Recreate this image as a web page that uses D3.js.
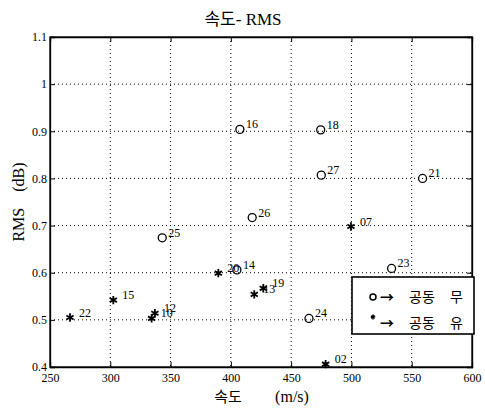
<!DOCTYPE HTML>
<html>
	<head>
		<title>속도-RMS</title>
		<meta charset="UTF8">
		<script src='https://d3js.org/d3.v7.min.js'></script>
		<style>
			body
			{
				margin: 0;
				padding: 0;
				background-color: white;
			}
			text
			{
				font-family: "Liberation Serif", "Noto Sans CJK KR", serif;
			}
			.kr
			{
				font-family: "Noto Sans CJK KR", sans-serif;
			}
		</style>
	</head>
	<body>
		<svg></svg>
	</body>
	<script>
		// measured points: speed (m/s), RMS (dB), 1 = cavitation ("공동 유")
		const ids   = ["16", "18", "27", "21", "26", "25", "14", "23", "24", "07", "20", "19", "13", "15", "22", "10", "12", "02"];
		const speed = [407.5, 474.5, 475, 559, 417.7, 343.1, 405, 533.3, 464.8, 499.6, 389.6, 426.9, 419.4, 302.5, 266.6, 334.3, 337, 478.6];
		const rms   = [0.904, 0.903, 0.807, 0.800, 0.717, 0.674, 0.606, 0.609, 0.503, 0.698, 0.599, 0.567, 0.554, 0.542, 0.505, 0.503, 0.514, 0.406];
		const cav   = [0, 0, 0, 0, 0, 0, 0, 0, 0, 1, 1, 1, 1, 1, 1, 1, 1, 1];

		const xTicks = [250, 300, 350, 400, 450, 500, 550, 600];
		const yTicks = [0.4, 0.5, 0.6, 0.7, 0.8, 0.9, 1.0, 1.1];
		const legendNames = ["공동 무", "공동 유"];

		const W = 485;
		const H = 409;
		const m = {left: 50, right: 13, top: 37, bottom: 42};

		const data = ids.map((id, i) => ({id: id, x: speed[i], y: rms[i], cav: cav[i]}));

		const xScale = d3.scaleLinear().domain([250, 600]).range([m.left, W - m.right]);
		const yScale = d3.scaleLinear().domain([0.4, 1.1]).range([H - m.bottom, m.top]);

		const svg = d3.select('svg').attr("width", W).attr("height", H);

		// grid
		svg.append('g')
		.selectAll('line')
		.data(xTicks.slice(1, -1))
		.enter()
		.append('line')
		.attr("x1", d => xScale(d)).attr("x2", d => xScale(d))
		.attr("y1", m.top).attr("y2", H - m.bottom)
		.attr("stroke", "black").attr("stroke-width", 1).attr("stroke-dasharray", "1,3");

		svg.append('g')
		.selectAll('line')
		.data(yTicks.slice(1, -1))
		.enter()
		.append('line')
		.attr("y1", d => yScale(d)).attr("y2", d => yScale(d))
		.attr("x1", m.left).attr("x2", W - m.right)
		.attr("stroke", "black").attr("stroke-width", 1).attr("stroke-dasharray", "1,3");

		// axes, matlab style ticks pointing in
		const fmtY = d => String(+d.toFixed(1));
		const xAxis = d3.axisBottom(xScale).tickValues(xTicks).tickSize(-5).tickPadding(6);
		const yAxis = d3.axisLeft(yScale).tickValues(yTicks).tickSize(-5).tickPadding(3).tickFormat(fmtY);

		svg.append('g')
		.attr("transform", "translate(0," + (H - m.bottom) + ")")
		.call(xAxis);
		svg.append('g')
		.attr("transform", "translate(" + m.left + ",0)")
		.call(yAxis);
		svg.append('g')
		.attr("transform", "translate(0," + m.top + ")")
		.call(d3.axisTop(xScale).tickValues(xTicks).tickSize(-5).tickFormat(""));
		svg.append('g')
		.attr("transform", "translate(" + (W - m.right) + ",0)")
		.call(d3.axisRight(yScale).tickValues(yTicks).tickSize(-5).tickFormat(""));

		svg.selectAll('.domain').attr("stroke", "black").attr("stroke-width", 1.3);
		svg.selectAll('.tick line').attr("stroke", "black");
		svg.selectAll('.tick text')
		.attr("fill", "black")
		.style("font-family", "'Liberation Serif', serif")
		.style("font-size", "12px");

		svg.append('rect')
		.attr("x", m.left).attr("y", m.top)
		.attr("width", W - m.left - m.right).attr("height", H - m.top - m.bottom)
		.attr("fill", "none").attr("stroke", "black").attr("stroke-width", 1.3);

		// markers
		const star = d3.symbol().type(d3.symbolAsterisk).size(48);

		svg.append('g')
		.selectAll('circle')
		.data(data.filter(d => !d.cav))
		.enter()
		.append('circle')
		.attr("cx", d => xScale(d.x))
		.attr("cy", d => yScale(d.y))
		.attr("r", 4)
		.attr("fill", "none")
		.attr("stroke", "black")
		.attr("stroke-width", 1.3);

		svg.append('g')
		.selectAll('path')
		.data(data.filter(d => d.cav))
		.enter()
		.append('path')
		.attr("d", star)
		.attr("transform", d => "translate(" + xScale(d.x) + "," + yScale(d.y) + ")")
		.attr("fill", "none")
		.attr("stroke", "black")
		.attr("stroke-width", 1.8);

		svg.append('g')
		.selectAll('text')
		.data(data)
		.enter()
		.append('text')
		.attr("x", d => xScale(d.x) + (d.cav ? 9 : 6))
		.attr("y", d => yScale(d.y) - 1)
		.style("font-size", "12px")
		.text(d => d.id);

		// legend
		const legend = svg.append('g');
		legend.append('rect')
		.attr("x", 352).attr("y", 277)
		.attr("width", 122).attr("height", 57)
		.attr("fill", "white").attr("stroke", "black").attr("stroke-width", 1.6);

		legend.append('circle')
		.attr("cx", 373).attr("cy", 297).attr("r", 3)
		.attr("fill", "none").attr("stroke", "black").attr("stroke-width", 1.5);
		legend.append('path')
		.attr("d", d3.symbol().type(d3.symbolAsterisk).size(16))
		.attr("transform", "translate(373,317)")
		.attr("fill", "none").attr("stroke", "black").attr("stroke-width", 1.5);

		const items = legend.selectAll('text')
		.data(legendNames)
		.enter()
		.append('text')
		.attr("class", "kr")
		.attr("y", (d, i) => 302 + 26 * i)
		.style("font-size", "14px");
		items.append('tspan').attr("x", 380).style("font-weight", "bold").text("→");
		items.append('tspan').attr("x", 409).text(d => d.split(" ")[0]);
		items.append('tspan').attr("x", 450).text(d => d.split(" ")[1]);

		// titles
		svg.append('text')
		.attr("x", 243).attr("y", 25)
		.attr("text-anchor", "middle")
		.style("font-size", "17px")
		.text("속도- RMS");

		svg.append('text')
		.attr("x", 228).attr("y", 402)
		.attr("text-anchor", "middle")
		.attr("class", "kr")
		.style("font-size", "15px")
		.text("속도");
		svg.append('text')
		.attr("x", 292).attr("y", 402)
		.attr("text-anchor", "middle")
		.style("font-size", "16px")
		.text("(m/s)");

		svg.append('text')
		.attr("transform", "translate(24,202) rotate(-90)")
		.attr("text-anchor", "middle")
		.attr("xml:space", "preserve")
		.style("font-size", "16px")
		.text("RMS    (dB)");
	</script>
</html>
